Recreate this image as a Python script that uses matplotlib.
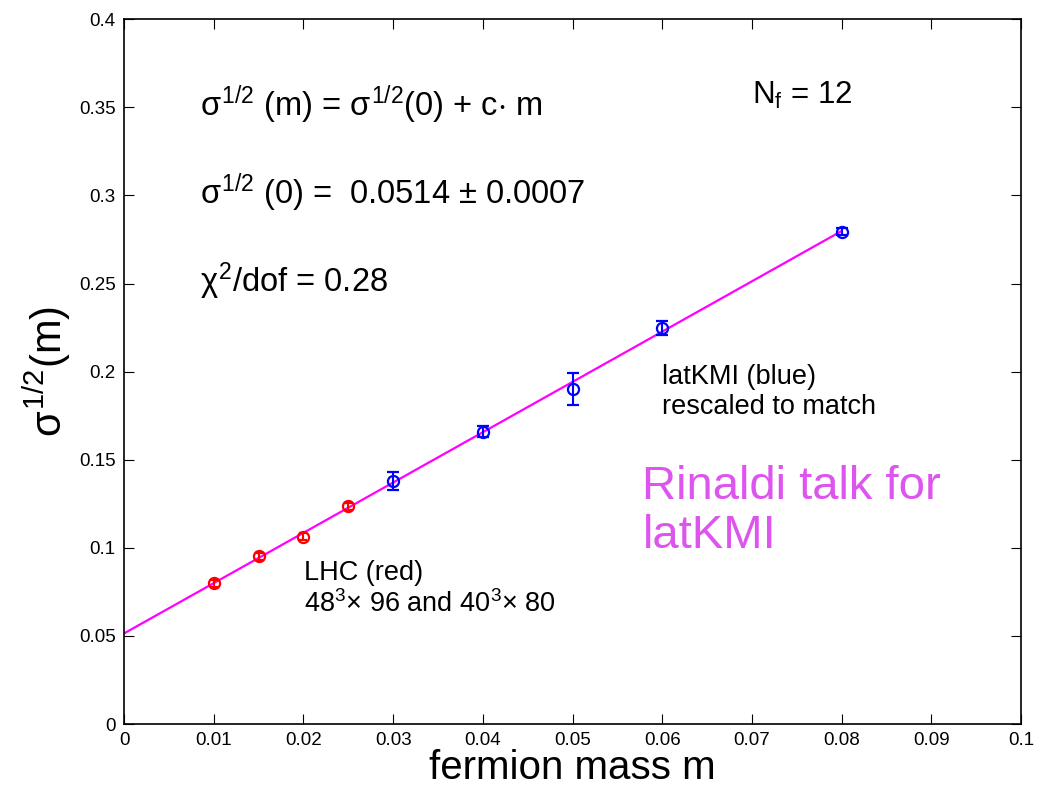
import matplotlib
matplotlib.use("Agg")
import matplotlib.pyplot as plt
import numpy as np

plt.rcParams["font.family"] = ["Liberation Sans", "DejaVu Sans"]
plt.rcParams["mathtext.fontset"] = "custom"
plt.rcParams["mathtext.rm"] = "Liberation Sans"
plt.rcParams["mathtext.it"] = "Liberation Sans"
plt.rcParams["mathtext.bf"] = "Liberation Sans:bold"

# LHC data (red)
m_lhc = [0.010, 0.015, 0.020, 0.025]
s_lhc = [0.0800, 0.0953, 0.1062, 0.1236]
e_lhc = [0.0020, 0.0020, 0.0020, 0.0020]

# latKMI data rescaled (blue)
m_kmi = [0.03, 0.04, 0.05, 0.06, 0.08]
s_kmi = [0.1380, 0.1660, 0.1900, 0.2248, 0.2795]
e_kmi = [0.0050, 0.0030, 0.0090, 0.0040, 0.0020]

# linear fit sigma^1/2(m) = sigma^1/2(0) + c*m
fit_m = [0.0, 0.08]
fit_a = 0.0514
fit_c = 2.855

x_ticks = [0, 0.01, 0.02, 0.03, 0.04, 0.05, 0.06, 0.07, 0.08, 0.09, 0.1]
x_labels = ["0", "0.01", "0.02", "0.03", "0.04", "0.05", "0.06", "0.07", "0.08", "0.09", "0.1"]
y_ticks = [0, 0.05, 0.1, 0.15, 0.2, 0.25, 0.3, 0.35, 0.4]
y_labels = ["0", "0.05", "0.1", "0.15", "0.2", "0.25", "0.3", "0.35", "0.4"]

fig = plt.figure(figsize=(10.37, 7.91), dpi=100)
ax = fig.add_axes([0.1196, 0.0847, 0.865, 0.891])

fm = np.array(fit_m)
ax.plot(fm, fit_a + fit_c * fm, color="#ff00ff", lw=1.6, zorder=2)

ax.errorbar(m_lhc, s_lhc, yerr=e_lhc, fmt="o", mfc="none", mec="red", ecolor="red",
            ms=8, mew=1.6, elinewidth=1.5, capsize=3, zorder=3)
ax.errorbar(m_kmi, s_kmi, yerr=e_kmi, fmt="o", mfc="none", mec="blue", ecolor="blue",
            ms=8, mew=1.6, elinewidth=1.5, capsize=4, zorder=3)

ax.set_xlim(0, 0.1)
ax.set_ylim(0, 0.4)
ax.set_xticks(x_ticks)
ax.set_xticklabels(x_labels)
ax.set_yticks(y_ticks)
ax.set_yticklabels(y_labels)
ax.tick_params(direction="in", top=True, right=True, length=7, width=0.8,
               labelsize=13.5, pad=6)
for sp in ax.spines.values():
    sp.set_linewidth(1.2)

ax.set_xlabel("fermion mass m", fontsize=29, labelpad=0)
ax.set_ylabel(r"$\sigma^{1/2}$(m)", fontsize=30, labelpad=4)

ax.text(0.0085, 0.345, r"$\sigma^{1/2}$ (m) = $\sigma^{1/2}$(0) + c$\cdot$ m", fontsize=23.5)
ax.text(0.0085, 0.295, r"$\sigma^{1/2}$ (0) =  0.0514 $\pm$ 0.0007", fontsize=23.5)
ax.text(0.0085, 0.245, r"$\chi^2$/dof = 0.28", fontsize=23.5)
ax.text(0.0700, 0.352, r"N$_\mathrm{f}$ = 12", fontsize=22.5)

ax.text(0.0600, 0.176, "latKMI (blue)\nrescaled to match", fontsize=19.5,
        linespacing=1.2)
ax.text(0.0578, 0.100, "Rinaldi talk for\nlatKMI", fontsize=34, color="#dd55ee",
        linespacing=1.15)
ax.text(0.0201, 0.0635, "LHC (red)\n" + r"48$^3$$\times$ 96 and 40$^3$$\times$ 80",
        fontsize=19.5, linespacing=1.2)

fig.savefig("out.png", dpi=100)
plt.close(fig)
